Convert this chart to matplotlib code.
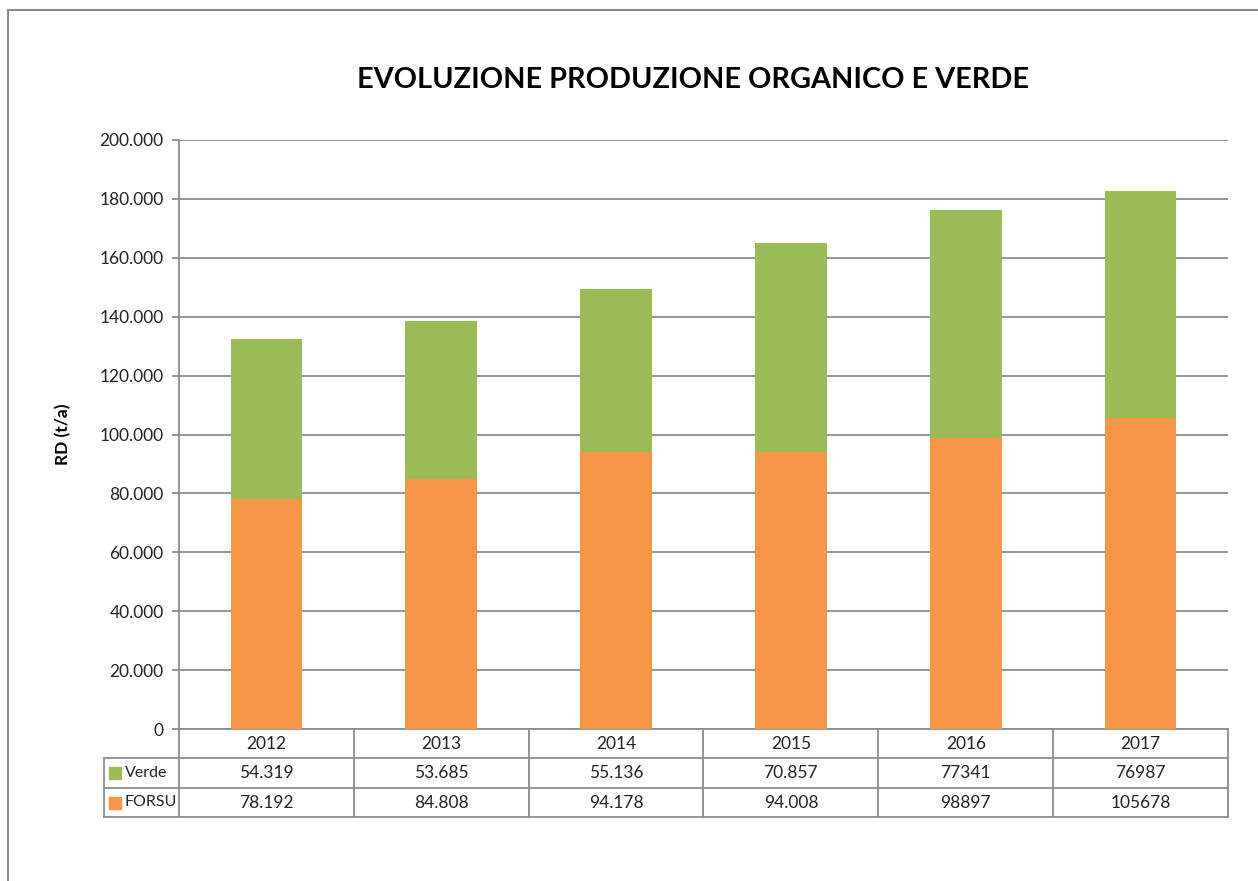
import matplotlib
matplotlib.use("Agg")
import matplotlib.pyplot as plt
import matplotlib.transforms as mtransforms
from matplotlib.patches import Rectangle
from matplotlib.lines import Line2D
from matplotlib.ticker import FuncFormatter, MultipleLocator

years = ["2012", "2013", "2014", "2015", "2016", "2017"]
forsu = [78192, 84808, 94178, 94008, 98897, 105678]
verde = [54319, 53685, 55136, 70857, 77341, 76987]
verde_labels = ["54.319", "53.685", "55.136", "70.857", "77341", "76987"]
forsu_labels = ["78.192", "84.808", "94.178", "94.008", "98897", "105678"]
title = "EVOLUZIONE PRODUZIONE ORGANICO E VERDE"
ylabel = "RD (t/a)"

C_FORSU = "#F79646"
C_VERDE = "#9BBB59"
GRID = "#8C8C8C"

plt.rcParams['font.family'] = ['Lato', 'DejaVu Sans']

W, H = 1258, 881
fig = plt.figure(figsize=(W / 100, H / 100), dpi=100)

# outer chart border
fig.add_artist(Rectangle((8 / W, -0.02), 1.1, 1 - 10 / H + 0.02,
                         transform=fig.transFigure, fill=False,
                         edgecolor="#8C8C8C", linewidth=1.5))

ax = fig.add_axes([179 / W, 1 - 729 / H, (1228 - 179) / W, (729 - 140) / H])
x = list(range(len(years)))
bw = 0.41
ax.bar(x, forsu, width=bw, color=C_FORSU, zorder=3)
ax.bar(x, verde, width=bw, bottom=forsu, color=C_VERDE, zorder=3)

ax.set_xlim(-0.5, len(years) - 0.5)
ax.set_ylim(0, 200000)
ax.yaxis.set_major_locator(MultipleLocator(20000))
ax.yaxis.set_major_formatter(FuncFormatter(lambda v, p: f"{int(v):,}".replace(",", ".")))
ax.grid(axis="y", color=GRID, linewidth=1.3, zorder=0)
ax.set_xticks([])
for s in ["top", "right", "bottom"]:
    ax.spines[s].set_visible(False)
ax.spines["left"].set_color(GRID)
ax.spines["left"].set_linewidth(1.3)
ax.tick_params(axis="y", length=5, width=1.3, color=GRID, labelsize=12.5,
               labelcolor="#222222", pad=6)
ax.set_ylabel(ylabel, fontsize=12.5, fontweight="bold")
ax.yaxis.set_label_coords((71 - 179) / (1228 - 179), 0.5)

fig.text(693 / W, 1 - 80 / H, title, ha="center", va="center",
         fontsize=20.8, fontweight="bold", color="black")

# data table under the axes
tr = mtransforms.blended_transform_factory(ax.transData, ax.transAxes)
ah = 729 - 140
rh = 29.4 / ah
cw = (1228 - 179) / 6
xl = -0.5 - 75 / cw
lk = dict(transform=tr, color=GRID, linewidth=1.3, clip_on=False)
# horizontal lines
ax.add_line(Line2D([-0.5, 5.5], [0, 0], **lk))
for r in (1, 2, 3):
    ax.add_line(Line2D([xl, 5.5], [-r * rh, -r * rh], **lk))
# vertical lines
ax.add_line(Line2D([xl, xl], [-rh, -3 * rh], **lk))
for i in range(len(years) + 1):
    ax.add_line(Line2D([i - 0.5, i - 0.5], [0, -3 * rh], **lk))

tk = dict(transform=tr, ha="center", va="center", fontsize=12.5, color="#222222", clip_on=False)
for i, yr in enumerate(years):
    ax.text(i, -0.5 * rh, yr, **tk)
    ax.text(i, -1.5 * rh, verde_labels[i], **tk)
    ax.text(i, -2.5 * rh, forsu_labels[i], **tk)

sq = 12 / cw
for r, (lab, col) in enumerate([("Verde", C_VERDE), ("FORSU", C_FORSU)]):
    yc = -(1.5 + r) * rh
    ax.add_patch(Rectangle((xl + 5 / cw, yc - 6 / ah), sq, 12 / ah,
                           transform=tr, color=col, clip_on=False))
    ax.text(xl + 21 / cw, yc, lab, transform=tr, ha="left", va="center",
            fontsize=11.5, color="#222222", clip_on=False)

fig.savefig("out.png", dpi=100)
